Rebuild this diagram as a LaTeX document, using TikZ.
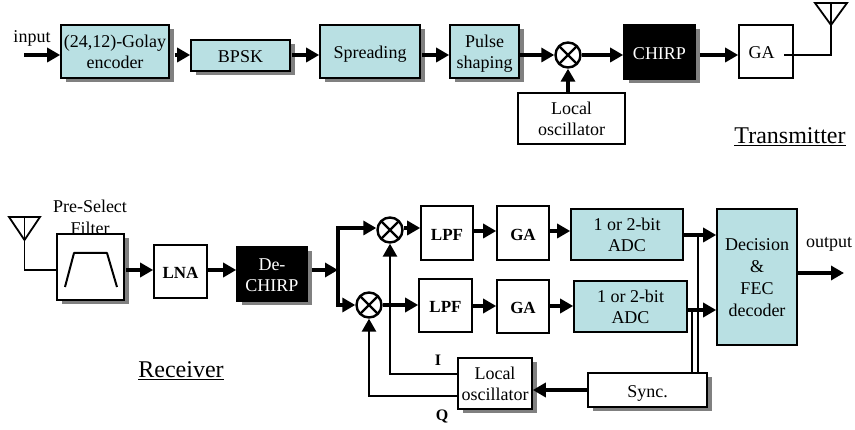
\documentclass[tikz,border=0pt]{standalone}
\usepackage{fontspec}
\setmainfont{Liberation Serif}
\usetikzlibrary{arrows.meta, shadows}
\definecolor{blockblue}{HTML}{B9E0E3}
\definecolor{shadowgray}{HTML}{808080}
\tikzset{
    block/.style = {draw, line width = 1.6pt, fill = white, inner sep = 0pt, align = center, font = \fontsize{18}{21}\selectfont,
        execute at begin node = {\rule{0pt}{19pt}}, execute at end node = {\rule[-4pt]{0pt}{4pt}}},
    lines/.style = {execute at begin node = {\rule{0pt}{#1}}},
    lines/.default = 39pt,
    tinted/.style = {block, fill = blockblue},
    shade/.style = {drop shadow = {shadow xshift = 5pt, shadow yshift = -4pt, fill = shadowgray, opacity = 1}},
    blackblock/.style = {block, fill = black, text = white, shade},
    boldblock/.style = {block, font = \fontsize{17}{22}\selectfont\bfseries},
    label/.style = {inner sep = 0pt, align = center, font = \fontsize{18}{22}\selectfont},
    boldlabel/.style = {inner sep = 0pt, font = \fontsize{16}{22}\selectfont\bfseries},
    title/.style = {inner sep = 0pt, font = \fontsize{24}{28}\selectfont},
    mixer/.style = {circle, draw, line width = 2.4pt, fill = white, minimum size = 25pt, inner sep = 0pt,
        path picture = {\draw[line width = 2.4pt] (path picture bounding box.north west) -- (path picture bounding box.south east)
            (path picture bounding box.north east) -- (path picture bounding box.south west);}},
    signal/.style = {line width = 3.3pt, -{Triangle[length = 13pt, width = 14pt]}},
    wire/.style = {line width = 1.8pt}
}
\begin{document}
\begin{tikzpicture}[x = 1pt, y = -1pt]
    \useasboundingbox (0, 0) rectangle (855, 430);

    % transmitter
    \coordinate (txrow) at (0, 55);
    \coordinate (txstart) at (24, 55);
    \node[label] (input) at (32, 38) {input};
    \node[tinted, shade, lines, minimum width = 108pt, minimum height = 53pt] (golay) at (115, 51.5) {(24,12)-Golay\\encoder};
    \node[tinted, shade, minimum width = 99pt, minimum height = 31pt] (bpsk) at (240.5, 55.5) {BPSK};
    \node[tinted, shade, minimum width = 100pt, minimum height = 53pt] (spreading) at (370, 51.5) {Spreading};
    \node[tinted, shade, lines, minimum width = 69pt, minimum height = 53pt] (pulse) at (484.5, 51.5) {Pulse\\shaping};
    \node[mixer] (txmix) at (568, 55) {};
    \node[blackblock, minimum width = 71pt, minimum height = 54pt] (chirp) at (659.5, 52) {CHIRP};
    \node[block, minimum width = 54pt, minimum height = 53pt] (txga) at (766, 51.5) {GA\hspace{9pt}};
    \node[block, lines, minimum width = 107pt, minimum height = 51pt] (txosc) at (571.5, 118.5) {Local\\oscillator};
    \node[title] (transmitter) at (790, 137) {\underline{Transmitter}};
    \coordinate (txgaend) at (784, 55);
    \coordinate (txant) at (831, 25);
    \coordinate (txantl) at (815, 3);
    \coordinate (txantr) at (847, 3);
    \coordinate (txant0) at (831, 3);

    \draw[signal] (txstart) -- (golay.west |- txrow);
    \draw[signal, shorten < = 5pt] (golay.east |- txrow) -- (bpsk.west |- txrow);
    \draw[signal, shorten < = 1pt] (bpsk.east |- txrow) -- (spreading.west |- txrow);
    \draw[signal, shorten < = 1pt] (spreading.east |- txrow) -- (pulse.west |- txrow);
    \draw[signal] (pulse.east |- txrow) -- (txmix);
    \draw[signal] (txmix) -- (chirp.west |- txrow);
    \draw[signal, shorten < = 4pt] (chirp.east |- txrow) -- (txga.west |- txrow);
    \draw[signal] (txosc.north -| txmix) -- (txmix);
    \draw[wire] (txgaend) -- (txant |- txrow) -- (txant);
    \draw[wire, line join = miter] (txantl) -- (txantr) -- (txant) -- cycle;
    \draw[wire] (txant0) -- (txant);

    % receiver
    \coordinate (rxrow) at (0, 270);
    \coordinate (toprow) at (0, 228);
    \coordinate (botrow) at (0, 305);
    \coordinate (rxant) at (24.5, 240);
    \coordinate (rxantl) at (9, 217);
    \coordinate (rxantr) at (40, 217);
    \coordinate (rxant0) at (24.5, 217);
    \coordinate (branch) at (338, 270);
    \node[label] (preselect) at (90, 206) {Pre-Select};
    \node[label] (filtertext) at (90, 228) {Filter};
    \node[block, shade, minimum width = 67pt, minimum height = 66pt] (filter) at (90.5, 267) {};
    \node[boldblock, minimum width = 53pt, minimum height = 53pt] (lna) at (180.5, 271.5) {LNA};
    \node[blackblock, lines, minimum width = 70pt, minimum height = 54pt] (dechirp) at (272, 274) {De-\\CHIRP};
    \node[mixer] (imix) at (390, 230) {};
    \node[mixer] (qmix) at (369, 305) {};
    \node[boldblock, minimum width = 52pt, minimum height = 54pt] (lpfi) at (447, 233) {LPF};
    \node[boldblock, minimum width = 53pt, minimum height = 53pt] (lpfq) at (445.5, 305.5) {LPF};
    \node[boldblock, minimum width = 52pt, minimum height = 54pt] (gai) at (523, 233) {GA};
    \node[boldblock, minimum width = 52pt, minimum height = 53pt] (gaq) at (523, 306.5) {GA};
    \node[tinted, lines, minimum width = 112pt, minimum height = 51pt] (adci) at (627, 234.5) {1 or 2-bit\\ADC};
    \node[tinted, lines, minimum width = 113pt, minimum height = 51pt] (adcq) at (630.5, 306.5) {1 or 2-bit\\ADC};
    \node[tinted, lines = 84pt, font = \fontsize{18}{22}\selectfont, minimum width = 80pt, minimum height = 136pt] (decision) at (757, 277) {Decision\\\&\\FEC\\decoder};
    \node[block, shade, minimum width = 119pt, minimum height = 34pt] (sync) at (647.5, 390) {Sync.};
    \node[block, shade, lines, minimum width = 74pt, minimum height = 51pt] (rxosc) at (495, 383.5) {Local\\oscillator};
    \node[title] (receiver) at (181, 371) {\underline{Receiver}};
    \node[boldlabel] (ilabel) at (438, 360) {I};
    \node[boldlabel] (qlabel) at (442, 417) {Q};
    \node[label] (output) at (829, 244) {output};
    \coordinate (outend) at (844, 273);
    \coordinate (adcirow) at (0, 235);
    \coordinate (adcqrow) at (0, 310);
    \coordinate (syncq) at (692, 373);
    \coordinate (synci) at (698, 373);
    \coordinate (irow) at (458, 374);
    \coordinate (qrow) at (458, 396);

    \draw[line width = 2pt, line join = round] (65, 287) -- (74, 253) -- (107, 253) -- (117, 287);
    \draw[wire] (rxantl) -- (rxantr) -- (rxant) -- cycle;
    \draw[wire] (rxant0) -- (rxant) -- (rxant |- rxrow) -- (filter.west |- rxrow);
    \draw[signal, shorten < = 1pt] (filter.east |- rxrow) -- (lna.west |- rxrow);
    \draw[signal] (lna.east |- rxrow) -- (dechirp.west |- rxrow);
    \draw[signal, shorten < = 4pt] (dechirp.east |- rxrow) -- (branch);
    \draw[signal] (branch) -- (branch |- toprow) -- (imix.west |- toprow);
    \draw[signal] (branch) -- (branch |- botrow) -- (qmix);
    \draw[signal] (imix.east |- toprow) -- (lpfi.west |- toprow);
    \draw[signal] (qmix) -- (lpfq.west |- botrow);
    \draw[signal] (lpfi.east |- 0, 231) -- (gai.west |- 0, 231);
    \draw[signal] (gai.east |- 0, 231) -- (adci.west |- 0, 231);
    \draw[signal] (lpfq.east |- 0, 306) -- (gaq.west |- 0, 306);
    \draw[signal] (gaq.east |- 0, 306) -- (adcq.west |- 0, 306);
    \draw[signal] (adci.east |- adcirow) -- (decision.west |- adcirow);
    \draw[signal] (adcq.east |- adcqrow) -- (decision.west |- adcqrow);
    \draw[signal] (decision.east |- outend) -- (outend);
    \draw[wire] (synci) -- (synci |- adcirow);
    \draw[wire] (syncq) -- (syncq |- adcqrow);
    \draw[signal] (sync.west) -- (rxosc.east |- sync.west);
    \draw[signal, line width = 2.7pt] (irow) -- (imix |- irow) -- (imix);
    \draw[signal, line width = 2.7pt] (qrow) -- (qmix |- qrow) -- (qmix);
\end{tikzpicture}
\end{document}
